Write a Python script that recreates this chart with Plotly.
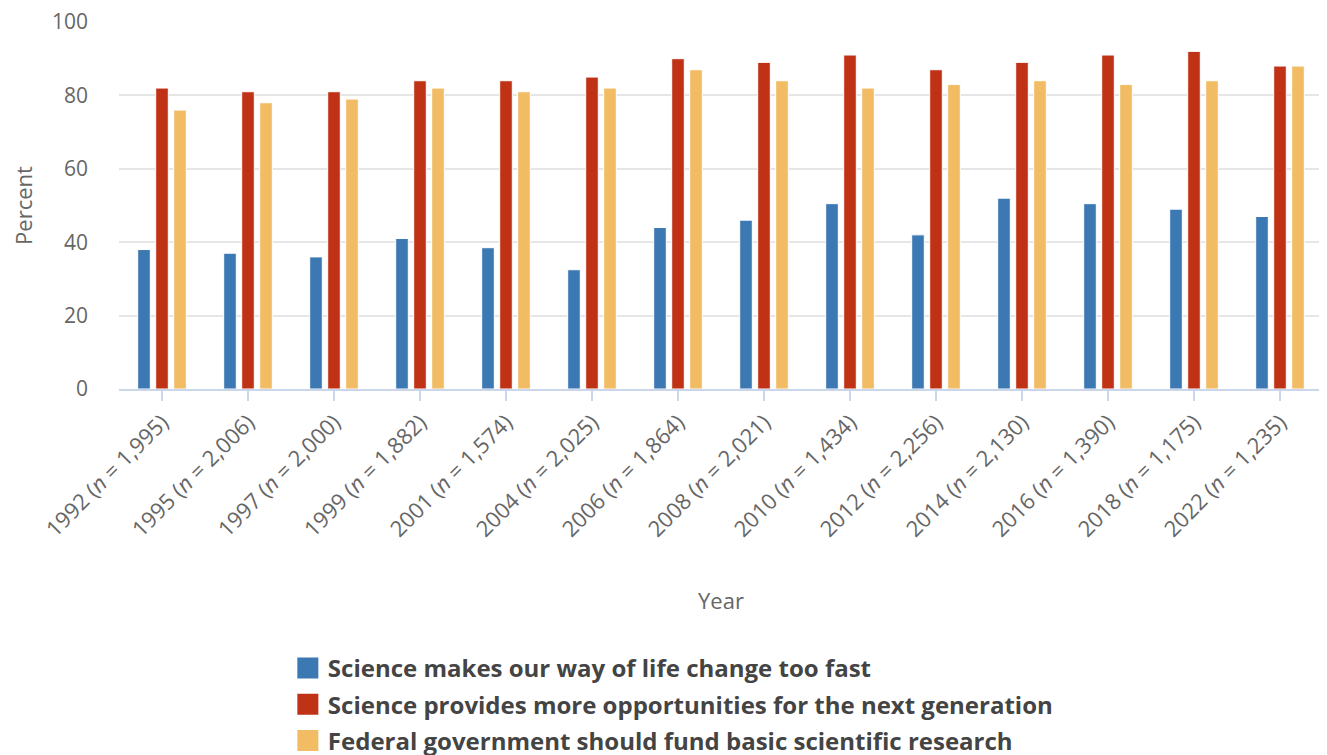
import plotly.graph_objects as go

years = ["1992", "1995", "1997", "1999", "2001", "2004", "2006", "2008", "2010", "2012", "2014", "2016", "2018", "2022"]
n_values = ["1,995", "2,006", "2,000", "1,882", "1,574", "2,025", "1,864", "2,021", "1,434", "2,256", "2,130", "1,390", "1,175", "1,235"]

change_too_fast = [38, 37, 36, 41, 38.5, 32.5, 44, 46, 50.5, 42, 52, 50.5, 49, 47]
more_opportunities = [82, 81, 81, 84, 84, 85, 90, 89, 91, 87, 89, 91, 92, 88]
fund_research = [76, 78, 79, 82, 81, 82, 87, 84, 82, 83, 84, 83, 84, 88]

series_names = [
    "Science makes our way of life change too fast",
    "Science provides more opportunities for the next generation",
    "Federal government should fund basic scientific research",
]
colors = ["#3C78B2", "#BF3216", "#F1BC63"]

categories = [f"{y} (<i>n</i> = {n})" for y, n in zip(years, n_values)]

fig = go.Figure()
for name, vals, col in zip(series_names, [change_too_fast, more_opportunities, fund_research], colors):
    fig.add_trace(go.Bar(
        x=categories, y=vals, name=name, showlegend=False,
        marker=dict(color=col, line=dict(color="white", width=1)),
        hovertemplate="%{x}<br>" + name + ": %{y}<extra></extra>",
    ))
# legend proxies with large square swatches
for i, (name, col) in enumerate(zip(series_names, colors)):
    fig.add_trace(go.Scatter(
        x=[None], y=[None], mode="markers", name=name, legendgroup=f"g{i}",
        marker=dict(symbol="square", size=16, color=col, line=dict(color=col, width=5)),
        showlegend=True,
    ))

fig.update_layout(
    width=1319, height=755,
    paper_bgcolor="white", plot_bgcolor="white",
    margin=dict(l=111, r=4, t=14, b=374, autoexpand=False),
    barmode="group", bargap=0.372, bargroupgap=0.3,
    font=dict(family="Open Sans, sans-serif", color="#666666"),
    xaxis=dict(
        tickangle=-45, tickfont=dict(size=22, color="#666666"),
        showline=True, linecolor="#ccd6eb", linewidth=1.5,
        ticks="outside", ticklen=10, tickcolor="#ccd6eb", tickwidth=1.5,
        showgrid=False, automargin=False,
        title=dict(text="Year", font=dict(size=22, color="#666666"), standoff=52),
    ),
    yaxis=dict(
        range=[0, 100], dtick=20, tickfont=dict(size=21, color="#666666"),
        showgrid=True, gridcolor="#e6e6e6", gridwidth=1.5, zeroline=False,
        ticks="", ticklabelstandoff=30, automargin=False, ticklabeloverflow="allow",
        title=dict(text="Percent", font=dict(size=22, color="#666666"), standoff=18),
    ),
    legend=dict(
        orientation="v", x=0.46, xanchor="center", y=-0.70, yanchor="top",
        font=dict(size=24, color="#444444", family="Open Sans, sans-serif", weight="bold"),
        itemsizing="trace", tracegroupgap=2, itemwidth=30,
    ),
)

fig.write_html("out.html")
